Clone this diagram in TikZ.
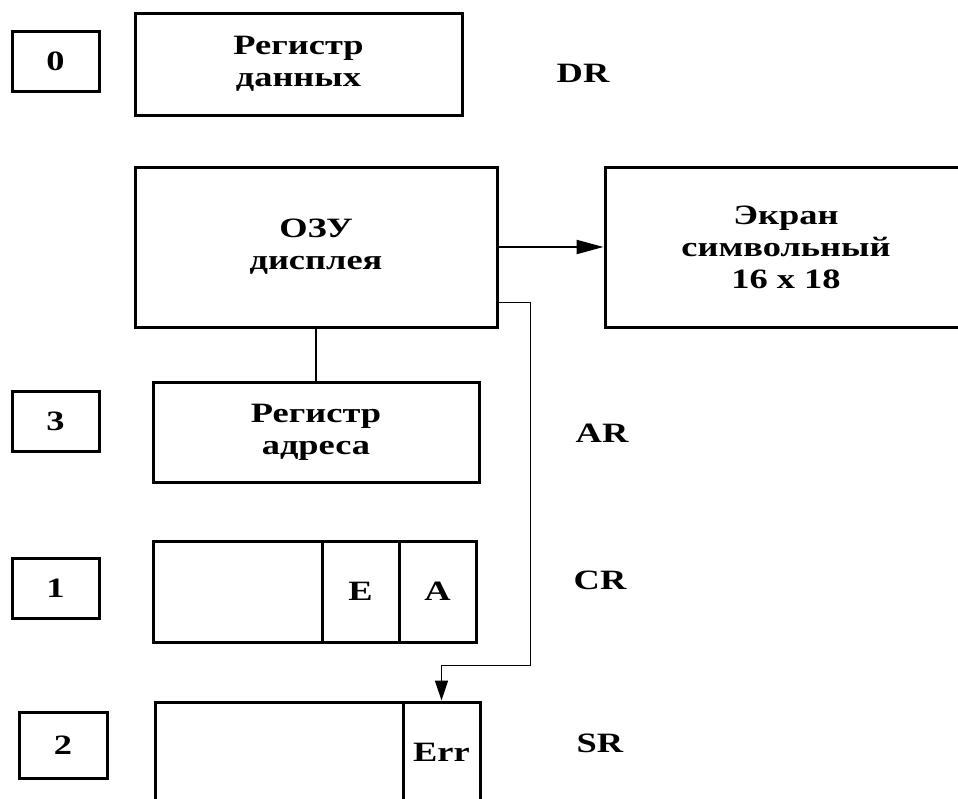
\documentclass[tikz,border=0pt]{standalone}
\usepackage{fontspec}
\setmainfont{Liberation Serif}[FakeStretch=1.3]
\usetikzlibrary{arrows.meta}
\begin{document}
\begin{tikzpicture}[x=1pt,y=-1pt,
  box/.style={draw, line width=3pt, rectangle, inner sep=0pt, align=center,
    font=\fontsize{28}{32}\selectfont\bfseries},
  lbl/.style={inner sep=0pt, font=\fontsize{28}{32}\selectfont\bfseries},
  mainarrow/.style={line width=2.2pt, -{Triangle[length=27pt,width=14pt]}},
  thinarrow/.style={line width=1.5pt, -{Triangle[length=20pt,width=13pt]}}]
\useasboundingbox (0,0) rectangle (958,798);
\clip (0,0) rectangle (958,798);
% number boxes
\node[box, minimum width=87pt, minimum height=60pt] (b0) at (55.5,61) {0};
\node[box, minimum width=87pt, minimum height=60pt] (b3) at (55.5,421) {3};
\node[box, minimum width=87pt, minimum height=60pt] (b1) at (55.5,588) {1};
\node[box, minimum width=88pt, minimum height=66pt] (b2) at (63,745) {2};
% registers
\node[box, minimum width=327pt, minimum height=102pt] (dr) at (298.5,64) {Регистр\\данных};
\node[box, minimum width=362pt, minimum height=160pt] (ozu) at (316,247) {ОЗУ\\дисплея};
\node[box, minimum width=362pt, minimum height=160pt] (scr) at (786,247) {Экран\\символьный\\16 x 18};
\node[box, minimum width=326pt, minimum height=100pt] (ar) at (316,432) {Регистр\\адреса};
\node[box, minimum width=323pt, minimum height=101pt] (cr) at (314.5,591.5) {};
\node[box, minimum width=77pt, minimum height=101pt] (crE) at (360.5,591.5) {E};
\node[box, minimum width=77pt, minimum height=101pt] (crA) at (437.5,591.5) {A};
\node[box, minimum width=325pt, minimum height=101pt] (sr) at (317.5,752.5) {};
\node[box, minimum width=77pt, minimum height=101pt] (err) at (441.5,752.5) {Err};
% side labels
\node[lbl] (ldr) at (583,73) {DR};
\node[lbl] (lar) at (602,433) {AR};
\node[lbl] (lcr) at (600,580) {CR};
\node[lbl] (lsr) at (600,743) {SR};
% connectors
\draw[mainarrow] (ozu.east) -- (scr.west);
\draw[line width=2.6pt] (ozu.south) -- (ar.north);
\draw[thinarrow] ([yshift=26pt]ozu.south east) -- ++(32,0) -- ++(0,363) -| (err.north);
\end{tikzpicture}
\end{document}
